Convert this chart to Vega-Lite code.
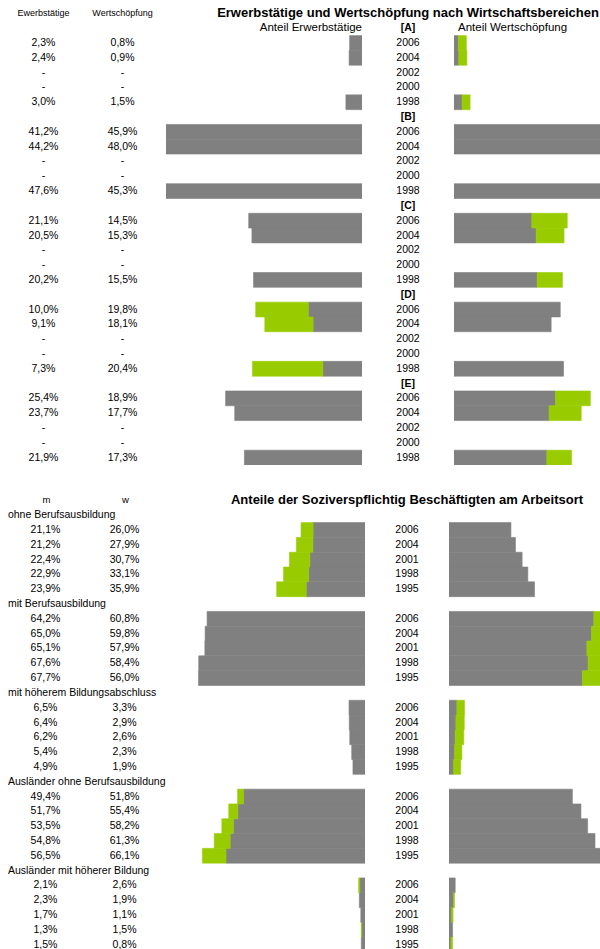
{
  "$schema": "https://vega.github.io/schema/vega-lite/v6.json",
  "autosize": {"type": "pad"},
  "padding": {"left": 0, "top": 6, "right": 0, "bottom": 0},
  "background": "white",
  "spacing": 28,
  "bounds": "full",
  "config": {
    "view": {"stroke": null},
    "font": "Liberation Sans",
    "text": {"font": "Liberation Sans", "color": "#000000"},
    "locale": {"number": {"decimal": ",", "thousands": ".", "grouping": [3], "currency": ["", " €"]}}
  },
  "datasets": {
    "top": [
      {"k": "A2006", "sec": "A", "year": "2006", "erw": 0.023, "wert": 0.008},
      {"k": "A2004", "sec": "A", "year": "2004", "erw": 0.024, "wert": 0.009},
      {"k": "A2002", "sec": "A", "year": "2002", "erw": null, "wert": null},
      {"k": "A2000", "sec": "A", "year": "2000", "erw": null, "wert": null},
      {"k": "A1998", "sec": "A", "year": "1998", "erw": 0.030, "wert": 0.015},
      {"k": "B2006", "sec": "B", "year": "2006", "erw": 0.412, "wert": 0.459},
      {"k": "B2004", "sec": "B", "year": "2004", "erw": 0.442, "wert": 0.480},
      {"k": "B2002", "sec": "B", "year": "2002", "erw": null, "wert": null},
      {"k": "B2000", "sec": "B", "year": "2000", "erw": null, "wert": null},
      {"k": "B1998", "sec": "B", "year": "1998", "erw": 0.476, "wert": 0.453},
      {"k": "C2006", "sec": "C", "year": "2006", "erw": 0.211, "wert": 0.145},
      {"k": "C2004", "sec": "C", "year": "2004", "erw": 0.205, "wert": 0.153},
      {"k": "C2002", "sec": "C", "year": "2002", "erw": null, "wert": null},
      {"k": "C2000", "sec": "C", "year": "2000", "erw": null, "wert": null},
      {"k": "C1998", "sec": "C", "year": "1998", "erw": 0.202, "wert": 0.155},
      {"k": "D2006", "sec": "D", "year": "2006", "erw": 0.100, "wert": 0.198},
      {"k": "D2004", "sec": "D", "year": "2004", "erw": 0.091, "wert": 0.181},
      {"k": "D2002", "sec": "D", "year": "2002", "erw": null, "wert": null},
      {"k": "D2000", "sec": "D", "year": "2000", "erw": null, "wert": null},
      {"k": "D1998", "sec": "D", "year": "1998", "erw": 0.073, "wert": 0.204},
      {"k": "E2006", "sec": "E", "year": "2006", "erw": 0.254, "wert": 0.189},
      {"k": "E2004", "sec": "E", "year": "2004", "erw": 0.237, "wert": 0.177},
      {"k": "E2002", "sec": "E", "year": "2002", "erw": null, "wert": null},
      {"k": "E2000", "sec": "E", "year": "2000", "erw": null, "wert": null},
      {"k": "E1998", "sec": "E", "year": "1998", "erw": 0.219, "wert": 0.173}
    ],
    "topHeads": [
      {"k": "A", "t": "[A]"}, {"k": "B", "t": "[B]"}, {"k": "C", "t": "[C]"}, {"k": "D", "t": "[D]"}, {"k": "E", "t": "[E]"}
    ],
    "bottom": [
      {"k": "ohne2006", "grp": "ohne", "year": "2006", "m": 0.211, "w": 0.260},
      {"k": "ohne2004", "grp": "ohne", "year": "2004", "m": 0.212, "w": 0.279},
      {"k": "ohne2001", "grp": "ohne", "year": "2001", "m": 0.224, "w": 0.307},
      {"k": "ohne1998", "grp": "ohne", "year": "1998", "m": 0.229, "w": 0.331},
      {"k": "ohne1995", "grp": "ohne", "year": "1995", "m": 0.239, "w": 0.359},
      {"k": "mit2006", "grp": "mit", "year": "2006", "m": 0.642, "w": 0.608},
      {"k": "mit2004", "grp": "mit", "year": "2004", "m": 0.650, "w": 0.598},
      {"k": "mit2001", "grp": "mit", "year": "2001", "m": 0.651, "w": 0.579},
      {"k": "mit1998", "grp": "mit", "year": "1998", "m": 0.676, "w": 0.584},
      {"k": "mit1995", "grp": "mit", "year": "1995", "m": 0.677, "w": 0.560},
      {"k": "hoeher2006", "grp": "hoeher", "year": "2006", "m": 0.065, "w": 0.033},
      {"k": "hoeher2004", "grp": "hoeher", "year": "2004", "m": 0.064, "w": 0.029},
      {"k": "hoeher2001", "grp": "hoeher", "year": "2001", "m": 0.062, "w": 0.026},
      {"k": "hoeher1998", "grp": "hoeher", "year": "1998", "m": 0.054, "w": 0.023},
      {"k": "hoeher1995", "grp": "hoeher", "year": "1995", "m": 0.049, "w": 0.019},
      {"k": "auslOhne2006", "grp": "auslOhne", "year": "2006", "m": 0.494, "w": 0.518},
      {"k": "auslOhne2004", "grp": "auslOhne", "year": "2004", "m": 0.517, "w": 0.554},
      {"k": "auslOhne2001", "grp": "auslOhne", "year": "2001", "m": 0.535, "w": 0.582},
      {"k": "auslOhne1998", "grp": "auslOhne", "year": "1998", "m": 0.548, "w": 0.613},
      {"k": "auslOhne1995", "grp": "auslOhne", "year": "1995", "m": 0.565, "w": 0.661},
      {"k": "auslHoeher2006", "grp": "auslHoeher", "year": "2006", "m": 0.021, "w": 0.026},
      {"k": "auslHoeher2004", "grp": "auslHoeher", "year": "2004", "m": 0.023, "w": 0.019},
      {"k": "auslHoeher2001", "grp": "auslHoeher", "year": "2001", "m": 0.017, "w": 0.011},
      {"k": "auslHoeher1998", "grp": "auslHoeher", "year": "1998", "m": 0.013, "w": 0.015},
      {"k": "auslHoeher1995", "grp": "auslHoeher", "year": "1995", "m": 0.015, "w": 0.008}
    ],
    "bottomHeads": [
      {"k": "ohne", "t": "ohne Berufsausbildung"},
      {"k": "mit", "t": "mit Berufsausbildung"},
      {"k": "hoeher", "t": "mit höherem Bildungsabschluss"},
      {"k": "auslOhne", "t": "Ausländer ohne Berufsausbildung"},
      {"k": "auslHoeher", "t": "Ausländer mit höherer Bildung"}
    ]
  },
  "vconcat": [
    {
      "spacing": 0,
      "bounds": "flush",
      "hconcat": [
        {
          "width": 166, "height": 459,
          "encoding": {"y": {"field": "k", "type": "nominal", "axis": null, "scale": {"type": "band", "paddingInner": 0, "paddingOuter": 0, "domain": ["hdr","A","A2006","A2004","A2002","A2000","A1998","B","B2006","B2004","B2002","B2000","B1998","C","C2006","C2004","C2002","C2000","C1998","D","D2006","D2004","D2002","D2000","D1998","E","E2006","E2004","E2002","E2000","E1998"]}}},
          "layer": [
            {
              "data": {"values": [{"k": "hdr", "col": "erw", "t": "Ewerbstätige"}, {"k": "hdr", "col": "wert", "t": "Wertschöpfung"}]},
              "mark": {"type": "text", "fontSize": 9},
              "encoding": {
                "x": {"field": "col", "type": "nominal", "axis": null, "scale": {"type": "band", "domain": ["erw", "wert"], "paddingInner": 0.1, "paddingOuter": 0.1}},
                "text": {"field": "t"}
              }
            },
            {
              "data": {"name": "top"},
              "transform": [{"fold": ["erw", "wert"], "as": ["col", "v"]}, {"filter": "datum.v != null"}],
              "mark": {"type": "text", "fontSize": 10.5},
              "encoding": {
                "x": {"field": "col", "type": "nominal", "axis": null, "scale": {"type": "band", "domain": ["erw", "wert"], "paddingInner": 0.1, "paddingOuter": 0.1}},
                "text": {"field": "v", "type": "quantitative", "format": ".1%"}
              }
            },
            {
              "data": {"name": "top"},
              "transform": [{"fold": ["erw", "wert"], "as": ["col", "v"]}, {"filter": "datum.v == null"}],
              "mark": {"type": "text", "fontSize": 10.5, "text": "-"},
              "encoding": {
                "x": {"field": "col", "type": "nominal", "axis": null, "scale": {"type": "band", "domain": ["erw", "wert"], "paddingInner": 0.1, "paddingOuter": 0.1}}
              }
            }
          ]
        },
        {
          "width": 196, "height": 459,
          "encoding": {"y": {"field": "k", "type": "nominal", "axis": null, "scale": {"type": "band", "paddingInner": 0, "paddingOuter": 0, "domain": ["hdr","A","A2006","A2004","A2002","A2000","A1998","B","B2006","B2004","B2002","B2000","B1998","C","C2006","C2004","C2002","C2000","C1998","D","D2006","D2004","D2002","D2000","D1998","E","E2006","E2004","E2002","E2000","E1998"]}}},
          "layer": [
            {
              "data": {"name": "top"},
              "transform": [{"filter": "datum.erw != null"}],
              "mark": {"type": "bar", "color": "#808080", "stroke": "#808080", "strokeWidth": 0.6, "clip": true},
              "encoding": {"x": {"field": "erw", "type": "quantitative", "axis": null, "scale": {"domain": [0, 0.365], "reverse": true, "nice": false}}}
            },
            {
              "data": {"name": "top"},
              "transform": [{"filter": "datum.wert != null && datum.erw != null && datum.wert > datum.erw"}],
              "mark": {"type": "bar", "color": "#99CC00", "stroke": "#99CC00", "strokeWidth": 0.6, "clip": true},
              "encoding": {
                "x": {"field": "erw", "type": "quantitative", "axis": null, "scale": {"domain": [0, 0.365], "reverse": true, "nice": false}},
                "x2": {"field": "wert"}
              }
            },
            {
              "data": {"values": [{"k": "A", "t": "Anteil Erwerbstätige"}]},
              "mark": {"type": "text", "fontSize": 11.5, "align": "right"},
              "encoding": {
                "x": {"datum": 0, "type": "quantitative", "axis": null, "scale": {"domain": [0, 0.365], "reverse": true, "nice": false}},
                "text": {"field": "t"}
              }
            }
          ]
        },
        {
          "width": 92, "height": 459,
          "encoding": {"y": {"field": "k", "type": "nominal", "axis": null, "scale": {"type": "band", "paddingInner": 0, "paddingOuter": 0, "domain": ["hdr","A","A2006","A2004","A2002","A2000","A1998","B","B2006","B2004","B2002","B2000","B1998","C","C2006","C2004","C2002","C2000","C1998","D","D2006","D2004","D2002","D2000","D1998","E","E2006","E2004","E2002","E2000","E1998"]}}},
          "layer": [
            {
              "data": {"values": [{"k": "hdr", "t": "Erwerbstätige und Wertschöpfung nach Wirtschaftsbereichen"}]},
              "mark": {"type": "text", "fontSize": 13, "fontWeight": "bold"},
              "encoding": {"text": {"field": "t"}}
            },
            {
              "data": {"name": "topHeads"},
              "mark": {"type": "text", "fontSize": 10.5, "fontWeight": "bold"},
              "encoding": {"text": {"field": "t"}}
            },
            {
              "data": {"name": "top"},
              "mark": {"type": "text", "fontSize": 10.5},
              "encoding": {"text": {"field": "year"}}
            }
          ]
        },
        {
          "width": 146, "height": 459,
          "encoding": {"y": {"field": "k", "type": "nominal", "axis": null, "scale": {"type": "band", "paddingInner": 0, "paddingOuter": 0, "domain": ["hdr","A","A2006","A2004","A2002","A2000","A1998","B","B2006","B2004","B2002","B2000","B1998","C","C2006","C2004","C2002","C2000","C1998","D","D2006","D2004","D2002","D2000","D1998","E","E2006","E2004","E2002","E2000","E1998"]}}},
          "layer": [
            {
              "data": {"name": "top"},
              "transform": [{"filter": "datum.wert != null"}],
              "mark": {"type": "bar", "color": "#808080", "stroke": "#808080", "strokeWidth": 0.6, "clip": true},
              "encoding": {"x": {"field": "wert", "type": "quantitative", "axis": null, "scale": {"domain": [0, 0.272], "nice": false}}}
            },
            {
              "data": {"name": "top"},
              "transform": [{"filter": "datum.wert != null && datum.erw != null && datum.erw > datum.wert"}],
              "mark": {"type": "bar", "color": "#99CC00", "stroke": "#99CC00", "strokeWidth": 0.6, "clip": true},
              "encoding": {
                "x": {"field": "wert", "type": "quantitative", "axis": null, "scale": {"domain": [0, 0.272], "nice": false}},
                "x2": {"field": "erw"}
              }
            },
            {
              "data": {"values": [{"k": "A", "t": "Anteil Wertschöpfung"}]},
              "mark": {"type": "text", "fontSize": 11.5, "align": "left", "dx": 4},
              "encoding": {
                "x": {"datum": 0, "type": "quantitative", "axis": null, "scale": {"domain": [0, 0.272], "nice": false}},
                "text": {"field": "t"}
              }
            }
          ]
        }
      ]
    },
    {
      "spacing": 0,
      "bounds": "flush",
      "hconcat": [
        {
          "width": 166, "height": 459,
          "encoding": {"y": {"field": "k", "type": "nominal", "axis": null, "scale": {"type": "band", "paddingInner": 0, "paddingOuter": 0, "domain": ["hdr","ohne","ohne2006","ohne2004","ohne2001","ohne1998","ohne1995","mit","mit2006","mit2004","mit2001","mit1998","mit1995","hoeher","hoeher2006","hoeher2004","hoeher2001","hoeher1998","hoeher1995","auslOhne","auslOhne2006","auslOhne2004","auslOhne2001","auslOhne1998","auslOhne1995","auslHoeher","auslHoeher2006","auslHoeher2004","auslHoeher2001","auslHoeher1998","auslHoeher1995"]}}},
          "layer": [
            {
              "data": {"values": [{"k": "hdr", "col": "m", "t": "m"}, {"k": "hdr", "col": "w", "t": "w"}]},
              "mark": {"type": "text", "fontSize": 9.5, "dx": 3},
              "encoding": {
                "x": {"field": "col", "type": "nominal", "axis": null, "scale": {"type": "band", "domain": ["m", "w"], "paddingInner": 0.1, "paddingOuter": 0.1}},
                "text": {"field": "t"}
              }
            },
            {
              "data": {"name": "bottomHeads"},
              "mark": {"type": "text", "fontSize": 10.5, "align": "left", "clip": true},
              "encoding": {
                "x": {"datum": "m", "type": "nominal", "bandPosition": 0, "axis": null, "scale": {"type": "band", "domain": ["m", "w"], "paddingInner": 0.1, "paddingOuter": 0.1}},
                "text": {"field": "t"}
              }
            },
            {
              "data": {"name": "bottom"},
              "transform": [{"fold": ["m", "w"], "as": ["col", "v"]}],
              "mark": {"type": "text", "fontSize": 10.5, "dx": 2},
              "encoding": {
                "x": {"field": "col", "type": "nominal", "axis": null, "scale": {"type": "band", "domain": ["m", "w"], "paddingInner": 0.1, "paddingOuter": 0.1}},
                "text": {"field": "v", "type": "quantitative", "format": ".1%"}
              }
            }
          ]
        },
        {
          "width": 199, "height": 459,
          "encoding": {"y": {"field": "k", "type": "nominal", "axis": null, "scale": {"type": "band", "paddingInner": 0, "paddingOuter": 0, "domain": ["hdr","ohne","ohne2006","ohne2004","ohne2001","ohne1998","ohne1995","mit","mit2006","mit2004","mit2001","mit1998","mit1995","hoeher","hoeher2006","hoeher2004","hoeher2001","hoeher1998","hoeher1995","auslOhne","auslOhne2006","auslOhne2004","auslOhne2001","auslOhne1998","auslOhne1995","auslHoeher","auslHoeher2006","auslHoeher2004","auslHoeher2001","auslHoeher1998","auslHoeher1995"]}}},
          "layer": [
            {
              "data": {"name": "bottom"},
              "mark": {"type": "bar", "color": "#808080", "stroke": "#808080", "strokeWidth": 0.6, "clip": true},
              "encoding": {"x": {"field": "m", "type": "quantitative", "axis": null, "scale": {"domain": [0, 0.809], "reverse": true, "nice": false}}}
            },
            {
              "data": {"name": "bottom"},
              "transform": [{"filter": "datum.w > datum.m"}],
              "mark": {"type": "bar", "color": "#99CC00", "stroke": "#99CC00", "strokeWidth": 0.6, "clip": true},
              "encoding": {
                "x": {"field": "m", "type": "quantitative", "axis": null, "scale": {"domain": [0, 0.809], "reverse": true, "nice": false}},
                "x2": {"field": "w"}
              }
            }
          ]
        },
        {
          "width": 84, "height": 459,
          "encoding": {"y": {"field": "k", "type": "nominal", "axis": null, "scale": {"type": "band", "paddingInner": 0, "paddingOuter": 0, "domain": ["hdr","ohne","ohne2006","ohne2004","ohne2001","ohne1998","ohne1995","mit","mit2006","mit2004","mit2001","mit1998","mit1995","hoeher","hoeher2006","hoeher2004","hoeher2001","hoeher1998","hoeher1995","auslOhne","auslOhne2006","auslOhne2004","auslOhne2001","auslOhne1998","auslOhne1995","auslHoeher","auslHoeher2006","auslHoeher2004","auslHoeher2001","auslHoeher1998","auslHoeher1995"]}}},
          "layer": [
            {
              "data": {"values": [{"k": "hdr", "t": "Anteile der Soziverspflichtig Beschäftigten am Arbeitsort"}]},
              "mark": {"type": "text", "fontSize": 13, "fontWeight": "bold"},
              "encoding": {"text": {"field": "t"}}
            },
            {
              "data": {"name": "bottom"},
              "mark": {"type": "text", "fontSize": 10.5},
              "encoding": {"text": {"field": "year"}}
            }
          ]
        },
        {
          "width": 151, "height": 459,
          "encoding": {"y": {"field": "k", "type": "nominal", "axis": null, "scale": {"type": "band", "paddingInner": 0, "paddingOuter": 0, "domain": ["hdr","ohne","ohne2006","ohne2004","ohne2001","ohne1998","ohne1995","mit","mit2006","mit2004","mit2001","mit1998","mit1995","hoeher","hoeher2006","hoeher2004","hoeher2001","hoeher1998","hoeher1995","auslOhne","auslOhne2006","auslOhne2004","auslOhne2001","auslOhne1998","auslOhne1995","auslHoeher","auslHoeher2006","auslHoeher2004","auslHoeher2001","auslHoeher1998","auslHoeher1995"]}}},
          "layer": [
            {
              "data": {"name": "bottom"},
              "mark": {"type": "bar", "color": "#808080", "stroke": "#808080", "strokeWidth": 0.6, "clip": true},
              "encoding": {"x": {"field": "w", "type": "quantitative", "axis": null, "scale": {"domain": [0, 0.634], "nice": false}}}
            },
            {
              "data": {"name": "bottom"},
              "transform": [{"filter": "datum.m > datum.w"}],
              "mark": {"type": "bar", "color": "#99CC00", "stroke": "#99CC00", "strokeWidth": 0.6, "clip": true},
              "encoding": {
                "x": {"field": "w", "type": "quantitative", "axis": null, "scale": {"domain": [0, 0.634], "nice": false}},
                "x2": {"field": "m"}
              }
            }
          ]
        }
      ]
    }
  ]
}
